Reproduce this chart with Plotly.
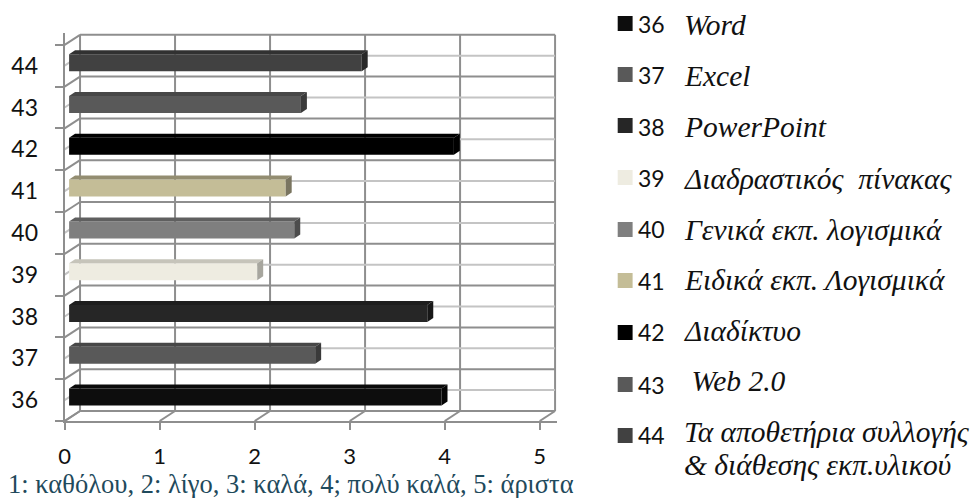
import plotly.graph_objects as go

# values, bottom row first
items = ["36", "37", "38", "39", "40", "41", "42", "43", "44"]
scores = [3.92, 2.59, 3.77, 1.98, 2.37, 2.28, 4.05, 2.44, 3.08]
names = [
    ["Word"],
    ["Excel"],
    ["PowerPoint"],
    ["Διαδραστικός  πίνακας"],
    ["Γενικά εκπ. λογισμικά"],
    ["Ειδικά εκπ. Λογισμικά"],
    ["Διαδίκτυο"],
    [" Web 2.0"],
    ["Τα αποθετήρια συλλογής", "&amp; διάθεσης εκπ.υλικού"],
]
front_colors = ["#0d0d0d", "#595959", "#262626", "#eeece1", "#7f7f7f", "#c4bd97", "#000000", "#595959", "#414141"]
top_colors = ["#0a0a0a", "#474747", "#1e1e1e", "#c6c4ba", "#5f5f5f", "#938d71", "#000000", "#474747", "#313131"]
side_colors = ["#050505", "#3a3a3a", "#181818", "#a7a69e", "#4c4c4c", "#7a7560", "#000000", "#3a3a3a", "#282828"]
x_ticks = [0, 1, 2, 3, 4, 5]
footnote = "1: καθόλου, 2: λίγο, 3: καλά, 4; πολύ καλά, 5: άριστα"

W, H = 971, 498
X0, PX_PER_X = 59, 95.6
Y0, PX_PER_ROW = 421, 41.8
WALL_X, WALL_Y = 15.5 / PX_PER_X, 10 / PX_PER_ROW
BAR_X, BAR_Y = 4.5 / PX_PER_X, 3 / PX_PER_ROW
BAR_H = 17 / PX_PER_ROW
TIP_X, TIP_Y = 6 / PX_PER_X, 4 / PX_PER_ROW
X_END, Y_END = 5.18, 8.78

DARK = "#8e8e8e"
LIGHT = "#c4c4c4"
TEXT = "#111111"
SERIF = "Liberation Serif"
SANS = "Lato"

fig = go.Figure()
rows = list(range(len(items)))
bar_y = [r + BAR_Y for r in rows]

fig.add_trace(go.Bar(
    y=bar_y, x=scores, base=BAR_X, orientation="h", width=BAR_H,
    marker=dict(color=front_colors, line_width=0), showlegend=False, hoverinfo="skip",
))

# top and end faces of each bar
for yb, v, c_top, c_side in zip(bar_y, scores, top_colors, side_colors):
    up, down = yb + BAR_H / 2, yb - BAR_H / 2
    left, right = BAR_X, BAR_X + v
    fig.add_trace(go.Scatter(
        x=[left, left + TIP_X, right + TIP_X, right, left],
        y=[up, up + TIP_Y, up + TIP_Y, up, up],
        mode="lines", fill="toself", fillcolor=c_top, line_width=0,
        showlegend=False, hoverinfo="skip",
    ))
    fig.add_trace(go.Scatter(
        x=[right, right + TIP_X, right + TIP_X, right, right],
        y=[down, down + TIP_Y, up + TIP_Y, up, down],
        mode="lines", fill="toself", fillcolor=c_side, line_width=0,
        showlegend=False, hoverinfo="skip",
    ))


def wall_line(x0, y0, x1, y1, color=DARK, width=2):
    return dict(type="line", xref="x", yref="y", x0=x0, y0=y0, x1=x1, y1=y1,
                layer="below", line=dict(color=color, width=width))


shapes = []
y_bottom, y_top = rows[0] - 0.5, rows[-1] + 0.5
for t in x_ticks:
    shapes.append(wall_line(t + WALL_X, y_bottom + WALL_Y, t + WALL_X, y_top + WALL_Y))
    shapes.append(wall_line(t, y_bottom, t + WALL_X, y_bottom + WALL_Y))
for r in rows + [rows[-1] + 1]:
    yy = r - 0.5
    shapes.append(wall_line(WALL_X, yy + WALL_Y, x_ticks[-1] + WALL_X, yy + WALL_Y))
    shapes.append(wall_line(0, yy, WALL_X, yy + WALL_Y))
for r in rows:
    shapes.append(wall_line(WALL_X, r + WALL_Y, x_ticks[-1] + WALL_X, r + WALL_Y, LIGHT))
    shapes.append(wall_line(0, r, WALL_X, r + WALL_Y, LIGHT))

# legend, placed by hand like the original
legend_swatch_y = [16, 67, 118, 170, 222, 273, 325, 377, 428]
legend_number_y = [24, 75, 127, 178, 229, 281, 332, 385, 435]
legend_name_y = [25, 76, 127, 179, 230, 280, 331, 381, 432]
annotations = []
for i, item in enumerate(items):
    shapes.append(dict(
        type="rect", xref="paper", yref="paper",
        x0=615.5 / W, x1=630.5 / W,
        y0=1 - legend_swatch_y[i] / H, y1=1 - (legend_swatch_y[i] + 15) / H,
        fillcolor=front_colors[i], line_width=0,
    ))
    annotations.append(dict(
        text=item, xref="paper", yref="paper", x=634 / W, y=1 - legend_number_y[i] / H,
        xanchor="left", yanchor="middle", align="left", showarrow=False,
        font=dict(family=SANS, size=23, color=TEXT),
    ))
    for j, line in enumerate(names[i]):
        annotations.append(dict(
            text=f"<i>{line}</i>", xref="paper", yref="paper",
            x=680 / W, y=1 - (legend_name_y[i] + 33 * j) / H,
            xanchor="left", yanchor="middle", align="left", showarrow=False,
            font=dict(family=SERIF, size=29.5, color=TEXT),
        ))
annotations.append(dict(
    text=footnote, xref="paper", yref="paper", x=0, y=1 - 484 / H,
    xanchor="left", yanchor="middle", align="left", showarrow=False,
    font=dict(family=SERIF, size=26.5, color="#1f4a5c"),
))

fig.update_layout(
    width=W, height=H, margin=dict(l=0, r=0, t=0, b=0),
    paper_bgcolor="white", plot_bgcolor="white", showlegend=False,
    shapes=shapes, annotations=annotations,
    xaxis=dict(
        domain=[X0 / W, (X0 + X_END * PX_PER_X) / W], range=[0, X_END],
        tickvals=x_ticks, ticks="outside", ticklen=7, tickwidth=2, tickcolor=DARK,
        showgrid=False, zeroline=False, showline=True, linecolor=DARK, linewidth=2,
        ticklabelstandoff=8, tickfont=dict(family=SANS, size=22, color=TEXT),
    ),
    yaxis=dict(
        domain=[1 - (Y0 / H), 1 - (Y0 - (Y_END + 0.5) * PX_PER_ROW) / H], range=[-0.5, Y_END],
        tickvals=rows, ticktext=items, ticks="",
        minor=dict(tick0=-0.5, dtick=1, ticks="outside", ticklen=8, tickwidth=2, tickcolor=DARK, showgrid=False),
        showgrid=False, zeroline=False, showline=True, linecolor=DARK, linewidth=2,
        ticklabelstandoff=20, tickfont=dict(family=SANS, size=23, color=TEXT),
    ),
)

fig.write_html(
    "out.html",
    config={"displayModeBar": False},
    post_script="document.body.style.margin='0';document.body.style.overflow='hidden';",
)
